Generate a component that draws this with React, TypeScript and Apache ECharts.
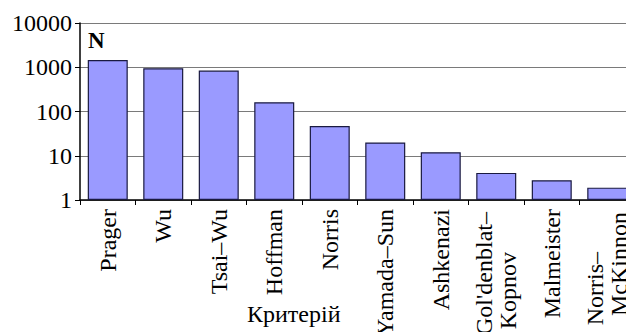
import React, { useEffect, useRef } from "react";
import * as echarts from "echarts";

const categories = [
  "Prager",
  "Wu",
  "Tsai–Wu",
  "Hoffman",
  "Norris",
  "Yamada–Sun",
  "Ashkenazi",
  "Gol'denblat–\nKopnov",
  "Malmeister",
  "Norris–\nMcKinnon",
];
const values = [1450, 950, 840, 162, 47, 20, 12, 4.1, 2.8, 1.9];
const yMin = 1;
const yMax = 10000;
const yAxisTitle = "N";
const xAxisTitle = "Критерій";

const FONT = "Liberation Serif";

export default function App() {
  const ref = useRef<HTMLDivElement>(null);
  useEffect(() => {
    if (!ref.current) return;
    const chart = echarts.init(ref.current, null, { renderer: "svg" });
    chart.setOption({
      animation: false,
      backgroundColor: "#ffffff",
      textStyle: { fontFamily: FONT },
      grid: {
        left: 80,
        top: 23,
        width: 555,
        height: 177,
        containLabel: false,
        outerBoundsMode: "none",
      },
      xAxis: {
        type: "category",
        data: categories,
        boundaryGap: true,
        axisLine: { show: true, lineStyle: { color: "#000", width: 1.5 } },
        axisTick: { show: true, length: 5, alignWithLabel: false, lineStyle: { color: "#000" } },
        axisLabel: {
          interval: 0,
          rotate: 90,
          margin: 9,
          fontFamily: FONT,
          fontSize: 24,
          lineHeight: 24,
          color: "#000",
          hideOverlap: false,
          formatter: (v: string) => {
            const parts = v.split("\n");
            if (parts.length === 1) return v;
            const maxLen = Math.max(...parts.map((p) => p.length));
            return parts.map((p) => (p.length === maxLen ? `{a|${p}}` : `{b|${p}}`)).join("\n");
          },
          rich: {
            a: { fontFamily: FONT, fontSize: 24, lineHeight: 24, color: "#000", padding: [0, 3, 0, 0] },
            b: { fontFamily: FONT, fontSize: 24, lineHeight: 24, color: "#000", padding: [0, 43, 0, 0] },
          },
        },
        splitLine: { show: false },
      },
      yAxis: {
        type: "log",
        logBase: 10,
        min: yMin,
        max: yMax,
        axisLine: { show: true, lineStyle: { color: "#000", width: 1.5 } },
        axisTick: { show: true, length: 5, lineStyle: { color: "#000" } },
        axisLabel: {
          margin: 8,
          fontFamily: FONT,
          fontSize: 24,
          color: "#000",
          formatter: (v: number) => String(Math.round(v)),
        },
        splitLine: { show: true, lineStyle: { color: "#7a7a7a", width: 1.2 } },
        minorTick: { show: false },
      },
      series: [
        {
          type: "bar",
          data: values,
          barWidth: 40,
          itemStyle: { color: "#9a9aff", borderColor: "#1a1a40", borderWidth: 1.2 },
        },
      ],
      graphic: [
        {
          type: "text",
          left: 88,
          top: 29,
          style: { text: yAxisTitle, fontFamily: FONT, fontSize: 23, fontWeight: "bold", fill: "#000" },
        },
        {
          type: "text",
          left: 247,
          top: 302,
          style: { text: xAxisTitle, fontFamily: FONT, fontSize: 24, fill: "#000" },
        },
      ],
    });
    return () => chart.dispose();
  }, []);
  return (
    <div
      ref={ref}
      style={{ position: "absolute", left: 0, top: 0, width: 626, height: 332, overflow: "hidden" }}
    />
  );
}
